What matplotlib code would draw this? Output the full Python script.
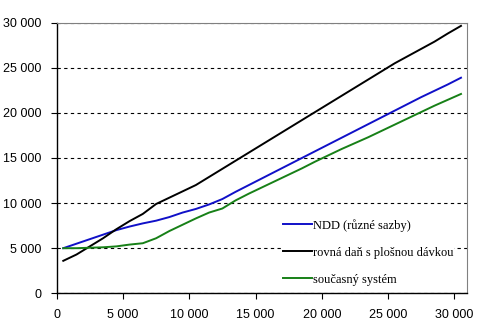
import matplotlib
matplotlib.use("Agg")
import matplotlib.pyplot as plt
from matplotlib.ticker import FuncFormatter, MultipleLocator

# x values: income levels
income = [500, 1500, 2500, 3500, 4500, 5500, 6500, 7500, 8500, 9500,
          10500, 11500, 12500, 13500, 14500, 15500, 16500, 17500, 18500, 19500,
          20500, 21500, 22500, 23500, 24500, 25500, 26500, 27500, 28500, 29500,
          30500]

ndd = [5000, 5500, 6000, 6500, 7000, 7400, 7750, 8050, 8450, 8950,
       9350, 9850, 10450, 11250, 12000, 12750, 13500, 14250, 15000, 15750,
       16500, 17250, 18000, 18750, 19500, 20250, 21000, 21750, 22450, 23150,
       23900]

flat_tax = [3600, 4300, 5200, 6100, 7100, 8000, 8800, 9900, 10600, 11300,
            12000, 12900, 13800, 14700, 15600, 16500, 17400, 18300, 19200, 20100,
            21000, 21900, 22800, 23700, 24600, 25500, 26300, 27100, 27900, 28800,
            29650]

current = [5000, 5000, 5050, 5100, 5200, 5400, 5550, 6100, 6900, 7600,
           8300, 8950, 9400, 10300, 11050, 11750, 12450, 13150, 13850, 14600,
           15300, 16000, 16650, 17300, 18000, 18700, 19400, 20100, 20800, 21450,
           22100]

labels = ["NDD (různé sazby)", "rovná daň s plošnou dávkou", "současný systém"]
colors = ["#1010c8", "black", "#178017"]

fig = plt.figure(figsize=(4.8, 3.32), dpi=100)
ax = fig.add_axes([0.118, 0.1166, 0.854, 0.8150])

for series, lab, col in zip([ndd, flat_tax, current], labels, colors):
    ax.plot(income, series, color=col, lw=1.4, label=lab)

ax.set_xlim(0, 30920)
ax.set_ylim(0, 30000)
ax.xaxis.set_major_locator(MultipleLocator(5000))
ax.yaxis.set_major_locator(MultipleLocator(5000))

fmt = FuncFormatter(lambda v, p: "{:,.0f}".format(v).replace(",", " "))
ax.xaxis.set_major_formatter(fmt)
ax.yaxis.set_major_formatter(fmt)

ax.set_axisbelow(True)
ax.grid(axis="y", color="black", linestyle=(0, (3, 3)), lw=0.8)

for side in ["top", "right"]:
    ax.spines[side].set_color("#808080")
for side in ["left", "bottom"]:
    ax.spines[side].set_color("black")
    ax.spines[side].set_linewidth(1.0)

ax.tick_params(direction="out", length=4, width=0.8, pad=7, labelsize=9)
for t in ax.get_xticklabels() + ax.get_yticklabels():
    t.set_family("Liberation Sans")

leg = ax.legend(loc="upper left", bbox_to_anchor=(283 / 480, 1 - 219 / 332),
                bbox_transform=fig.transFigure,
                prop={"family": "Liberation Serif", "size": 9},
                handlelength=2.3, handletextpad=0.1, labelspacing=1.2,
                borderpad=0.0, borderaxespad=0.0, frameon=True,
                fancybox=False, edgecolor="none", facecolor="white",
                framealpha=1.0)

fig.savefig("out.png", dpi=100)
